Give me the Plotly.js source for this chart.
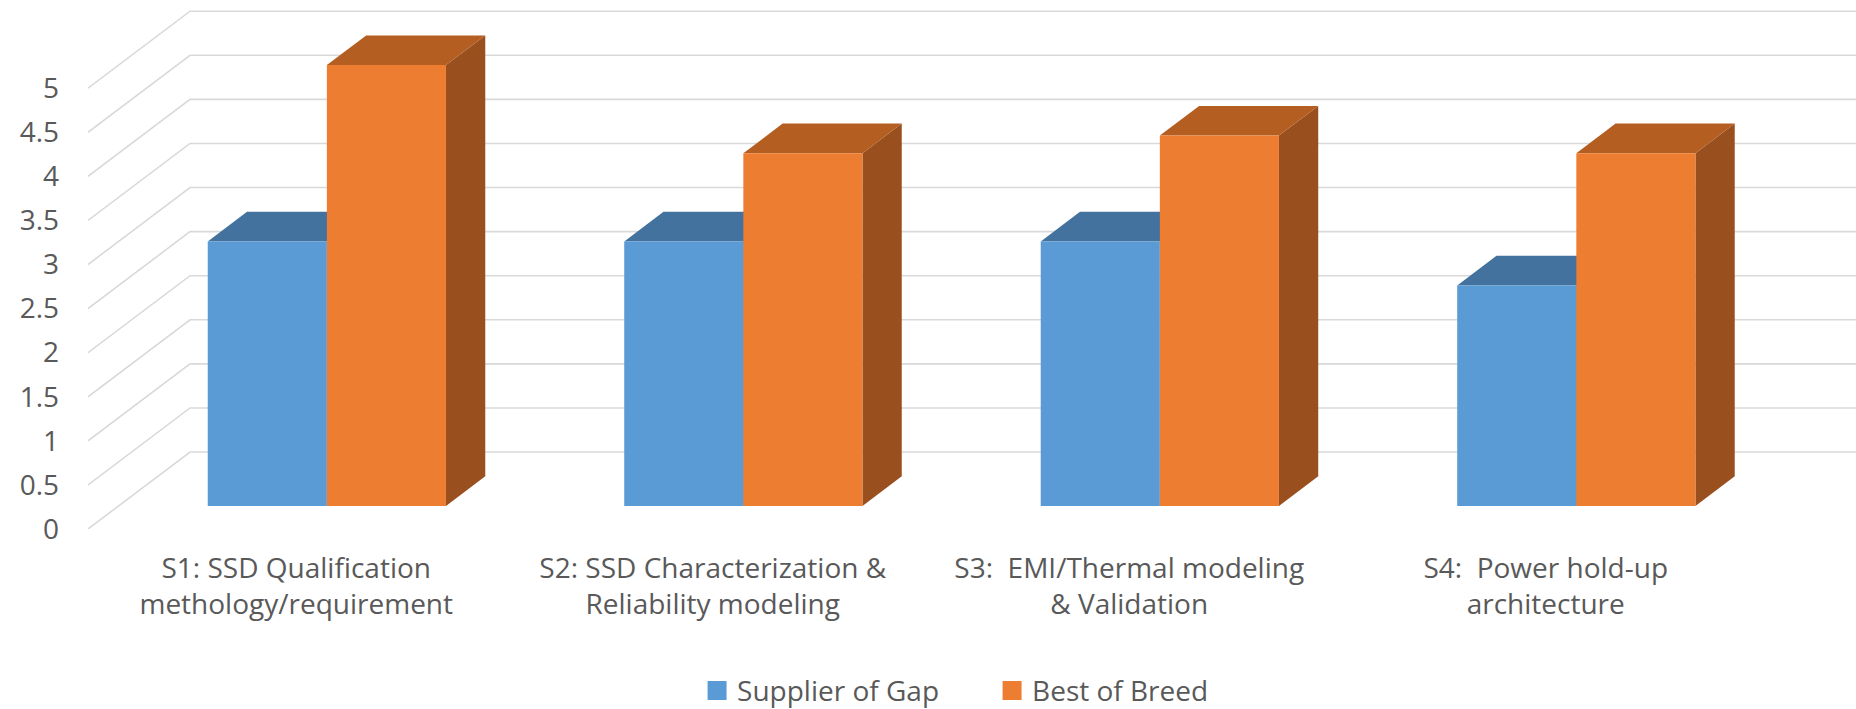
<!DOCTYPE html>
<html><head><meta charset="utf-8">
<script src="https://cdn.plot.ly/plotly-3.0.1.min.js"></script>
<style>html,body{margin:0;padding:0;background:#fff}#chart{width:1856px;height:709px}</style>
</head><body><div id="chart"></div>
<script>
// ---- data ----
const categories = [
  "S1: SSD Qualification<br>methology/requirement",
  "S2: SSD Characterization &<br>Reliability modeling",
  "S3:\u00a0 EMI/Thermal modeling<br>& Validation",
  "S4:\u00a0 Power hold-up<br>architecture"
];
const seriesNames = ["Supplier of Gap", "Best of Breed"];
const supplierOfGap = [3, 3, 3, 2.5];
const bestOfBreed = [5, 4, 4.2, 4];
const yTickValues = [0, 0.5, 1, 1.5, 2, 2.5, 3, 3.5, 4, 4.5, 5];
const yTickLabels = ["0", "0.5", "1", "1.5", "2", "2.5", "3", "3.5", "4", "4.5", "5"];

// ---- styling / 3D projection constants ----
const FONT = "'Open Sans', sans-serif";
const TEXT = "#595959";
const GRID = "#d9d9d9";
const frontColors = ["#5b9bd5", "#ed7d31"];
const topColors = ["#43729e", "#b45e22"];
const sideColors = ["#3a6590", "#9a4f1e"];
const DEPTH_X = 0.245;     // full depth of the floor, in category units
const DEPTH_Y = 0.873;     // full depth of the floor, in value units
const BAR_FRONT = 0.30;    // bars start at this fraction of the depth
const BAR_BACK = 0.685;    // bars end at this fraction of the depth
const BAR_W = 0.286;       // width of each bar in category units

const xIdx = categories.map((c, i) => i);
const seriesValues = [supplierOfGap, bestOfBreed];

const traces = [];

// grid: back wall horizontals + left wall diagonals
const gx = [], gy = [];
const xL = -0.5, xR = categories.length - 0.5;
yTickValues.forEach(v => {
  gx.push(xL, xL + DEPTH_X, xR + DEPTH_X, null);
  gy.push(v, v + DEPTH_Y, v + DEPTH_Y, null);
});
traces.push({type: "scatter", mode: "lines", x: gx, y: gy, line: {color: GRID, width: 1.6},
  hoverinfo: "skip", showlegend: false, zorder: 0});

// top and side faces (computed from values)
const bx = BAR_FRONT * DEPTH_X, by = BAR_FRONT * DEPTH_Y;
const ddx = (BAR_BACK - BAR_FRONT) * DEPTH_X, ddy = (BAR_BACK - BAR_FRONT) * DEPTH_Y;
seriesValues.forEach((vals, s) => {
  const tx = [], ty = [], sx = [], sy = [];
  vals.forEach((v, i) => {
    const x0 = i + bx + (s === 0 ? -BAR_W : 0), x1 = x0 + BAR_W;
    const yt = by + v;
    tx.push(x0, x1, x1 + ddx, x0 + ddx, x0, null);
    ty.push(yt, yt, yt + ddy, yt + ddy, yt, null);
    sx.push(x1, x1 + ddx, x1 + ddx, x1, x1, null);
    sy.push(by, by + ddy, yt + ddy, yt, by, null);
  });
  traces.push({type: "scatter", mode: "lines", x: sx, y: sy, fill: "toself", fillcolor: sideColors[s],
    line: {width: 0, color: sideColors[s]}, hoverinfo: "skip", showlegend: false, zorder: 1});
  traces.push({type: "scatter", mode: "lines", x: tx, y: ty, fill: "toself", fillcolor: topColors[s],
    line: {width: 0, color: topColors[s]}, hoverinfo: "skip", showlegend: false, zorder: 1});
});

// front faces
seriesValues.forEach((vals, s) => {
  traces.push({type: "bar", x: xIdx, y: vals, base: by, width: BAR_W,
    offset: s === 0 ? bx - BAR_W : bx, name: seriesNames[s],
    marker: {color: frontColors[s], line: {width: 0}}, showlegend: false, zorder: 2});
});

// legend entries
seriesNames.forEach((n, s) => {
  traces.push({type: "scatter", mode: "markers", x: [null], y: [null], name: n,
    marker: {symbol: "square", size: 16, color: frontColors[s], line: {width: 3, color: frontColors[s]}}});
});

const layout = {
  width: 1856, height: 709,
  margin: {l: 88, r: 0, t: 0, b: 180, autoexpand: false},
  paper_bgcolor: "#fff", plot_bgcolor: "#fff",
  font: {family: FONT, size: 28, color: TEXT},
  barmode: "overlay",
  showlegend: true,
  legend: {orientation: "h", x: 0.3445, xanchor: "left", y: -0.306, yanchor: "middle",
    entrywidth: 250, entrywidthmode: "pixels",
    font: {family: FONT, size: 28, color: TEXT}, bgcolor: "rgba(0,0,0,0)"},
  xaxis: {range: [xL, xR + DEPTH_X], tickmode: "array", tickvals: xIdx, ticktext: categories,
    showgrid: false, zeroline: false, showline: false, ticks: "", automargin: false,
    ticklabelstandoff: 20, tickfont: {family: FONT, size: 28, color: TEXT}, fixedrange: true},
  yaxis: {range: [0, 6], tickmode: "array", tickvals: yTickValues, ticktext: yTickLabels,
    showgrid: false, zeroline: false, showline: false, ticks: "", automargin: false,
    ticklabelstandoff: 28, tickfont: {family: FONT, size: 28, color: TEXT}, fixedrange: true}
};

Plotly.newPlot("chart", traces, layout, {displayModeBar: false, staticPlot: true});
</script>
</body></html>
